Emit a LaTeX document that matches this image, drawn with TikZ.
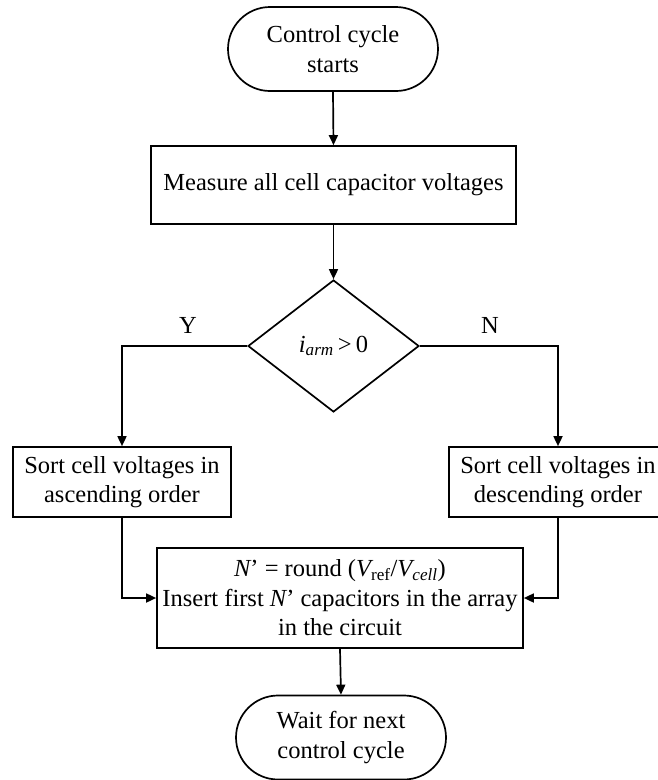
\documentclass[tikz,border=0pt]{standalone}
\usepackage{fontspec}
\setmainfont{Liberation Serif}
\usetikzlibrary{shapes.misc,shapes.geometric,arrows.meta}
\begin{document}
\begin{tikzpicture}[x=1pt,y=1pt,
  every node/.style={font=\fontsize{24.5}{29.5}\selectfont, align=center, inner sep=0pt},
  term/.style={draw, line width=1.7pt, rounded rectangle, rounded rectangle arc length=180, minimum width=210pt, minimum height=84pt},
  procbox/.style={draw, line width=1.7pt, rectangle},
  decis/.style={draw, line width=1.7pt, diamond, minimum width=171pt, minimum height=132pt},
  conn/.style={line width=1.7pt, -{Triangle[length=10pt,width=9pt]}},
  lbl/.style={font=\fontsize{24.5}{29.5}\selectfont}
]
\useasboundingbox (0,0) rectangle (657,-780);
\node[term] (start) at (333,-49) {Control cycle\\starts};
\node[procbox, minimum width=365pt, minimum height=78pt] (meas) at (333.5,-185) {Measure all cell capacitor voltages};
\node[decis] (dec) at (333.5,-346) {};
\node at (333.5,-346) {{\itshape i}\textsubscript{\itshape arm}\,>\,0};
\node[procbox, minimum width=218pt, minimum height=70pt] (asc) at (122,-482) {Sort cell voltages in\\ascending order};
\node[procbox, minimum width=218pt, minimum height=70pt] (desc) at (558,-482) {Sort cell voltages in\\descending order};
\node[procbox, minimum width=366pt, minimum height=100pt] (ins) at (340,-598) {{\itshape N}’ = round ({\itshape V}\textsubscript{ref}/{\itshape V}\textsubscript{\itshape cell})\\Insert first {\itshape N}’ capacitors in the array\\in the circuit};
\node[term] (wait) at (341,-737.5) {Wait for next\\control cycle};
\node[lbl] (ylab) at (188,-325) {Y};
\node[lbl] (nlab) at (490,-325) {N};
\draw[conn] (start.south) -- (meas.north);
\draw[conn] (meas.south) -- (dec.north);
\draw[conn] (dec.west) -| (asc.north);
\draw[conn] (dec.east) -| (desc.north);
\draw[conn] (asc.south) |- (ins.west);
\draw[conn] (desc.south) |- (ins.east);
\draw[conn] (ins.south) -- (wait.north);
\end{tikzpicture}
\end{document}
